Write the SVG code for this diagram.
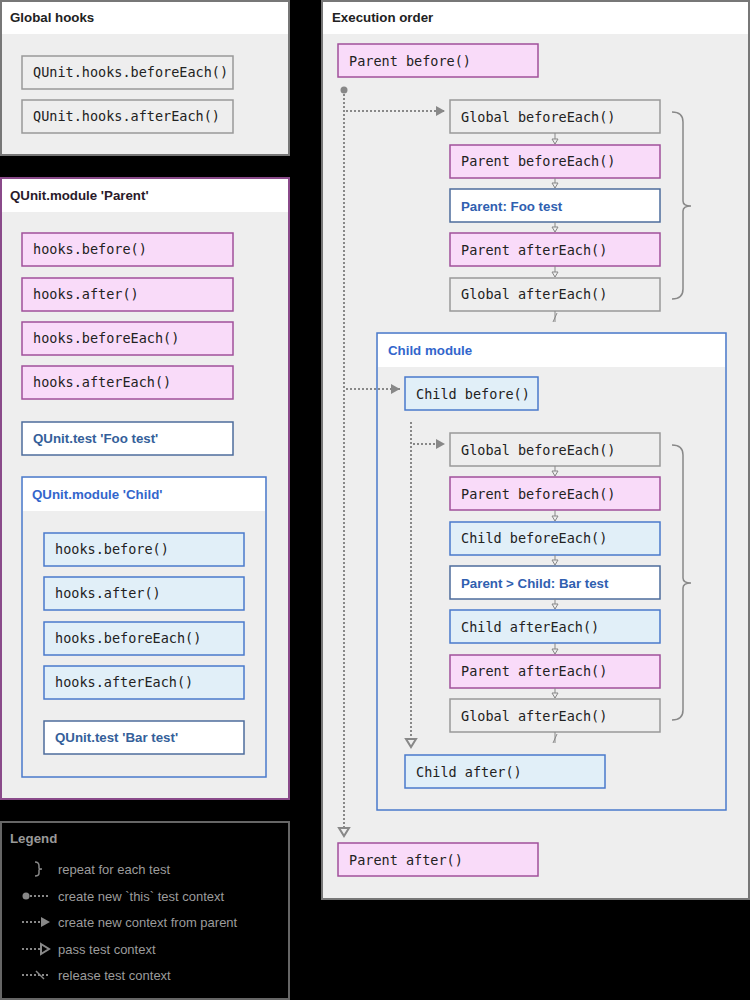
<svg xmlns="http://www.w3.org/2000/svg" width="750" height="1000" viewBox="0 0 750 1000">
<style>
.bg{fill:#000}
.panel{fill:#eeeeee;stroke:#777;stroke-width:2}
.hdr{fill:#fff}
.ptitle{font-family:"Liberation Sans",Arial,sans-serif;font-size:13.3px;font-weight:bold;fill:#222}
.mono{font-family:"DejaVu Sans Mono",monospace;font-size:13.5px;fill:#222}
.gray{fill:#eeeeee;stroke:#999;stroke-width:1.5}
.pink{fill:#f9dbf9;stroke:#a0509a;stroke-width:1.5}
.blue{fill:#e1eff8;stroke:#4a7acb;stroke-width:1.5}
.test{fill:#fff;stroke:#4d6c9c;stroke-width:1.5}
.ttxt{font-family:"Liberation Sans",Arial,sans-serif;font-size:13.3px;font-weight:bold;fill:#3060b0}
.ltxt{font-family:"Liberation Sans",Arial,sans-serif;font-size:13px;fill:#9c9c9c}
.dot{stroke:#888;stroke-width:2;stroke-dasharray:2,2;fill:none}
.thin{stroke:#888;stroke-width:1;fill:none}
.brace{stroke:#888;stroke-width:1.5;fill:none}
</style>
<defs>
<marker id="fa" markerUnits="userSpaceOnUse" markerWidth="12" markerHeight="12" refX="10" refY="6" orient="auto">
<path d="M1,1 L10,6 L1,11 Z" fill="#888"/>
</marker>
<marker id="ha" markerUnits="userSpaceOnUse" markerWidth="14" markerHeight="14" refX="10" refY="7" orient="auto">
<path d="M2,2 L10,7 L2,12 Z" fill="#eee" stroke="#888" stroke-width="2"/>
</marker>
<marker id="hab" markerUnits="userSpaceOnUse" markerWidth="14" markerHeight="14" refX="10" refY="7" orient="auto">
<path d="M2,2 L10,7 L2,12 Z" fill="#000" stroke="#888" stroke-width="2"/>
</marker>
<marker id="sa" markerUnits="userSpaceOnUse" markerWidth="8" markerHeight="8" refX="6" refY="4" orient="auto">
<path d="M1,1 L6,4 L1,7 Z" fill="#eee" stroke="#888" stroke-width="1"/>
</marker>
</defs>
<rect class="bg" x="0" y="0" width="750" height="1000"/>

<g id="global-hooks">
<rect class="panel" x="1" y="1" width="288" height="154"/>
<rect class="hdr" x="2" y="2" width="286" height="32"/>
<text class="ptitle" x="10" y="22">Global hooks</text>
<g id="g-before"><rect class="gray" x="22" y="56" width="211" height="33"/><text class="mono" x="33" y="77">QUnit.hooks.beforeEach()</text></g>
<g id="g-after"><rect class="gray" x="22" y="100" width="211" height="33"/><text class="mono" x="33" y="121">QUnit.hooks.afterEach()</text></g>
</g>

<g id="parent-module">
<rect class="panel" x="1" y="178" width="288" height="621" style="stroke:#8a4a8a"/>
<rect class="hdr" x="2" y="179" width="286" height="33"/>
<text class="ptitle" x="10" y="200" style="fill:#2a1a2a">QUnit.module 'Parent'</text>
<g id="p-before"><rect class="pink" x="22" y="233" width="211" height="33"/><text class="mono" x="33" y="254">hooks.before()</text></g>
<g id="p-after"><rect class="pink" x="22" y="278" width="211" height="33"/><text class="mono" x="33" y="299">hooks.after()</text></g>
<g id="p-beforeEach"><rect class="pink" x="22" y="322" width="211" height="33"/><text class="mono" x="33" y="343">hooks.beforeEach()</text></g>
<g id="p-afterEach"><rect class="pink" x="22" y="366" width="211" height="33"/><text class="mono" x="33" y="387">hooks.afterEach()</text></g>
<g id="p-test"><rect class="test" x="22" y="422" width="211" height="33"/><text class="ttxt" x="33" y="443" style="fill:#355f9a">QUnit.test 'Foo test'</text></g>
</g>

<g id="child-module">
<rect class="panel" x="22" y="477" width="244" height="300" style="stroke:#4a7acb;stroke-width:1.5"/>
<rect class="hdr" x="23" y="478" width="242" height="33"/>
<text class="ptitle" x="32" y="499" style="fill:#3366cc">QUnit.module 'Child'</text>
<g id="c-before"><rect class="blue" x="44" y="533" width="200" height="33"/><text class="mono" x="55" y="554">hooks.before()</text></g>
<g id="c-after"><rect class="blue" x="44" y="577" width="200" height="33"/><text class="mono" x="55" y="598">hooks.after()</text></g>
<g id="c-beforeEach"><rect class="blue" x="44" y="622" width="200" height="33"/><text class="mono" x="55" y="643">hooks.beforeEach()</text></g>
<g id="c-afterEach"><rect class="blue" x="44" y="666" width="200" height="33"/><text class="mono" x="55" y="687">hooks.afterEach()</text></g>
<g id="c-test"><rect class="test" x="44" y="721" width="200" height="33"/><text class="ttxt" x="55" y="742" style="fill:#355f9a">QUnit.test 'Bar test'</text></g>
</g>

<g id="legend">
<rect x="1" y="822" width="288" height="177" fill="#000" stroke="#666" stroke-width="2"/>
<text class="ptitle" x="10" y="843" style="fill:#999">Legend</text>
<path class="brace" d="M35,862 Q39,862 39,866 L39,868 Q39,869 42,869 Q39,869 39,870 L39,873 Q39,876 35,876"/>
<text class="ltxt" x="58" y="874">repeat for each test</text>
<circle cx="26" cy="896" r="3.5" fill="#888"/>
<line class="dot" x1="30" y1="896" x2="49" y2="896"/>
<text class="ltxt" x="58" y="901">create new `this` test context</text>
<line class="dot" x1="22" y1="922" x2="50" y2="922" marker-end="url(#fa)"/>
<text class="ltxt" x="58" y="927">create new context from parent</text>
<line class="dot" x1="22" y1="949" x2="49" y2="949" marker-end="url(#hab)"/>
<text class="ltxt" x="58" y="954">pass test context</text>
<line class="dot" x1="22" y1="975" x2="50" y2="975"/>
<line x1="36" y1="971" x2="44" y2="979" stroke="#888" stroke-width="1.5"/>
<text class="ltxt" x="58" y="980">release test context</text>
</g>

<g id="execution-order">
<rect class="panel" x="322" y="1" width="427" height="898"/>
<rect class="hdr" x="323" y="2" width="425" height="32"/>
<text class="ptitle" x="332" y="22">Execution order</text>
<g id="e-parent-before"><rect class="pink" x="338" y="44" width="200" height="33"/><text class="mono" x="349" y="66">Parent before()</text></g>
<g id="e1-global-beforeEach"><rect class="gray" x="450" y="100" width="210" height="33"/><text class="mono" x="461" y="122">Global beforeEach()</text></g>
<g id="e1-parent-beforeEach"><rect class="pink" x="450" y="145" width="210" height="33"/><text class="mono" x="461" y="166">Parent beforeEach()</text></g>
<g id="e1-foo-test"><rect class="test" x="450" y="189" width="210" height="33"/><text class="ttxt" x="461" y="211">Parent: Foo test</text></g>
<g id="e1-parent-afterEach"><rect class="pink" x="450" y="233" width="210" height="33"/><text class="mono" x="461" y="255">Parent afterEach()</text></g>
<g id="e1-global-afterEach"><rect class="gray" x="450" y="278" width="210" height="33"/><text class="mono" x="461" y="299">Global afterEach()</text></g>

<g id="e-child-module">
<rect class="panel" x="377" y="333" width="349" height="477" style="stroke:#4a7acb;stroke-width:1.5"/>
<rect class="hdr" x="378" y="334" width="347" height="33"/>
<text class="ptitle" x="388" y="355" style="fill:#3366cc">Child module</text>
</g>
<g id="e-child-before"><rect class="blue" x="405" y="377" width="133" height="33"/><text class="mono" x="416" y="399">Child before()</text></g>
<g id="e2-global-beforeEach"><rect class="gray" x="450" y="433" width="210" height="33"/><text class="mono" x="461" y="455">Global beforeEach()</text></g>
<g id="e2-parent-beforeEach"><rect class="pink" x="450" y="477" width="210" height="33"/><text class="mono" x="461" y="499">Parent beforeEach()</text></g>
<g id="e2-child-beforeEach"><rect class="blue" x="450" y="522" width="210" height="33"/><text class="mono" x="461" y="543">Child beforeEach()</text></g>
<g id="e2-bar-test"><rect class="test" x="450" y="566" width="210" height="33"/><text class="ttxt" x="461" y="588">Parent &gt; Child: Bar test</text></g>
<g id="e2-child-afterEach"><rect class="blue" x="450" y="610" width="210" height="33"/><text class="mono" x="461" y="632">Child afterEach()</text></g>
<g id="e2-parent-afterEach"><rect class="pink" x="450" y="655" width="210" height="33"/><text class="mono" x="461" y="676">Parent afterEach()</text></g>
<g id="e2-global-afterEach"><rect class="gray" x="450" y="699" width="210" height="33"/><text class="mono" x="461" y="721">Global afterEach()</text></g>
<g id="e-child-after"><rect class="blue" x="405" y="755" width="200" height="33"/><text class="mono" x="416" y="777">Child after()</text></g>
<g id="e-parent-after"><rect class="pink" x="338" y="843" width="200" height="33"/><text class="mono" x="349" y="865">Parent after()</text></g>

<path class="brace" d="M672,112 Q683,112 683,122 L683,201 Q683,206 691,206 Q683,206 683,211 L683,289 Q683,299 672,299"/>
<path class="brace" d="M672,445 Q683,445 683,455 L683,578 Q683,583 691,583 Q683,583 683,588 L683,710 Q683,720 672,720"/>
</g>

<g id="connectors">
<circle cx="344" cy="90" r="3.5" fill="#888"/>
<line class="dot" x1="344" y1="94" x2="344" y2="836" marker-end="url(#ha)"/>
<line class="dot" x1="346" y1="111" x2="445" y2="111" marker-end="url(#fa)"/>
<line class="dot" x1="346" y1="389" x2="400" y2="389" marker-end="url(#fa)"/>
<line class="dot" x1="411" y1="422" x2="411" y2="747" marker-end="url(#ha)"/>
<line class="dot" x1="413" y1="444" x2="445" y2="444" marker-end="url(#fa)"/>

<line class="thin" x1="555" y1="133" x2="555" y2="144" marker-end="url(#sa)"/>
<line class="thin" x1="555" y1="178" x2="555" y2="188" marker-end="url(#sa)"/>
<line class="thin" x1="555" y1="222" x2="555" y2="232" marker-end="url(#sa)"/>
<line class="thin" x1="555" y1="266" x2="555" y2="277" marker-end="url(#sa)"/>
<line class="thin" x1="555" y1="311" x2="555" y2="322"/>
<line x1="553" y1="322" x2="557" y2="313" stroke="#888" stroke-width="1"/>

<line class="thin" x1="555" y1="466" x2="555" y2="476" marker-end="url(#sa)"/>
<line class="thin" x1="555" y1="510" x2="555" y2="521" marker-end="url(#sa)"/>
<line class="thin" x1="555" y1="555" x2="555" y2="565" marker-end="url(#sa)"/>
<line class="thin" x1="555" y1="599" x2="555" y2="609" marker-end="url(#sa)"/>
<line class="thin" x1="555" y1="643" x2="555" y2="654" marker-end="url(#sa)"/>
<line class="thin" x1="555" y1="688" x2="555" y2="698" marker-end="url(#sa)"/>
<line class="thin" x1="555" y1="732" x2="555" y2="743"/>
<line x1="553" y1="743" x2="557" y2="734" stroke="#888" stroke-width="1"/>
</g>
</svg>
